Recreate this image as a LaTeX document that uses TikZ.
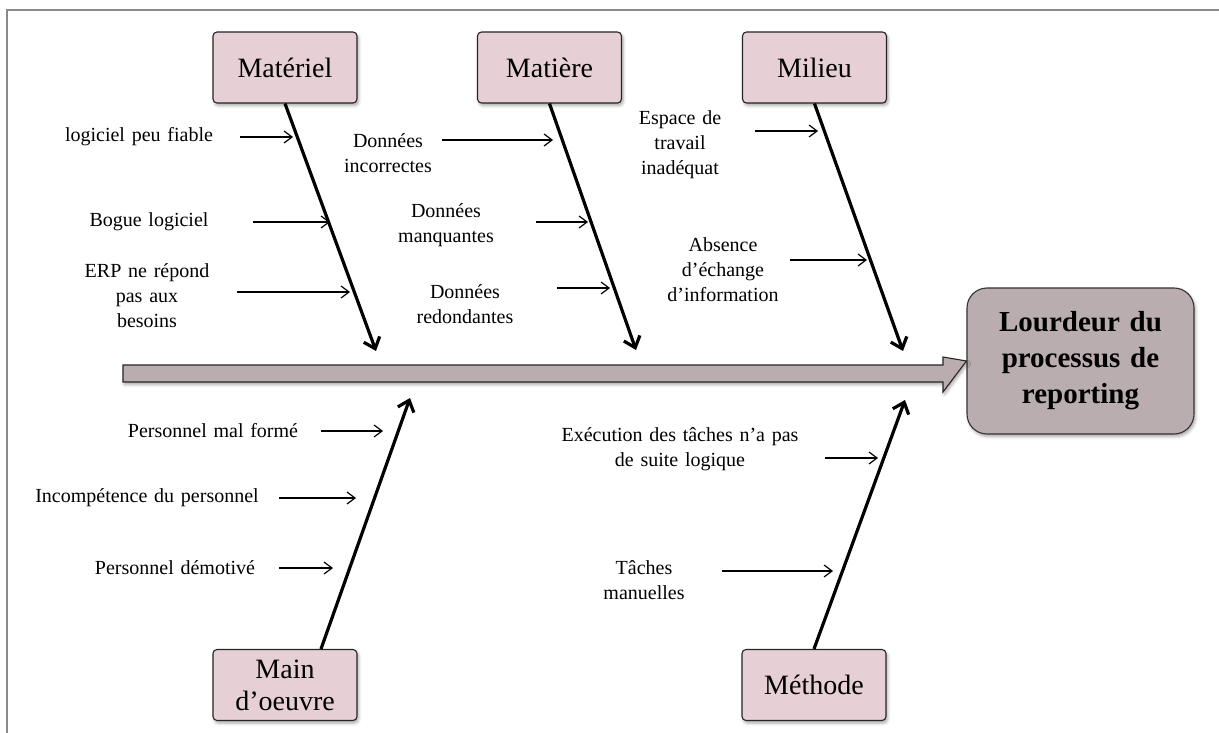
\documentclass[tikz,border=0pt]{standalone}
\usepackage{fontspec}
\setmainfont[WordSpace=1.35]{Liberation Serif}
\usetikzlibrary{arrows.meta,shadows.blur}

\definecolor{causefill}{HTML}{E6CFD5}
\definecolor{effectfill}{HTML}{BAADB0}
\definecolor{framegray}{HTML}{8A8A8A}

\tikzset{
  softshadow/.style={blur shadow={shadow xshift=1.5pt,shadow yshift=-2.5pt,
      shadow opacity=35,shadow blur radius=3pt}},
  cause/.style={draw=black!85, line width=1.1pt, fill=causefill,
      rounded corners=4pt, minimum width=144pt, minimum height=71pt,
      inner sep=0pt, font=\fontsize{28}{32}\selectfont, align=center, softshadow},
  effect/.style={draw=black!80, line width=1.1pt, fill=effectfill,
      rounded corners=20pt, minimum width=227pt, minimum height=146pt,
      inner sep=0pt, font=\fontsize{29}{36}\selectfont\bfseries, align=center, softshadow},
  reason/.style={font=\fontsize{20}{25}\selectfont, align=center, inner sep=0pt},
  bone/.style={line width=3.2pt, -{Straight Barb[length=10pt,width=17pt]}},
  twig/.style={line width=1.2pt, -{Straight Barb[length=8pt,width=12pt]}},
  spine/.style={draw=black!85, line width=1.1pt, fill=effectfill, softshadow},
}

\begin{document}
\begin{tikzpicture}[x=1pt,y=-1pt]
  \useasboundingbox (0,0) rectangle (1219,733);

  % frame (top and left edges)
  \draw[framegray, line width=2pt] (1219,10) -- (7,10) -- (7,733);

  % effect and cause boxes
  \node[effect] (eff) at (1080.5,361) {Lourdeur du\\processus de\\reporting};
  \node[cause] (mat) at (285,67.5) {Matériel};
  \node[cause] (mtr) at (549.5,67.5) {Matière};
  \node[cause] (mil) at (814.5,67.5) {Milieu};
  \node[cause] (mo)  at (285,685) {Main\\d’oeuvre};
  \node[cause] (met) at (814,685) {Méthode};

  % spine
  \path[spine] (123,365) -- (943,365) -- (943,357) -- (eff.west)
     -- (943,392) -- (943,382) -- (123,382) -- cycle;

  % bone tips
  \coordinate (matTip) at (376,351);
  \coordinate (mtrTip) at (636,350);
  \coordinate (milTip) at (903,351);
  \coordinate (moTip)  at (410,398);
  \coordinate (metTip) at (905,400);

  % bones
  \draw[bone] (mat.south) -- (matTip);
  \draw[bone] (mtr.south) -- (mtrTip);
  \draw[bone] (mil.south) -- (milTip);
  \draw[bone] ([xshift=36pt]mo.north) -- (moTip);
  \draw[bone] (met.north) -- (metTip);

  % Matériel causes
  \node[reason] (r1) at (139,137) {logiciel peu fiable};
  \node[reason] (r2) at (149,222) {Bogue logiciel};
  \node[reason] (r3) at (147,296) {ERP ne répond\\pas aux\\besoins};
  \coordinate (a1) at (240,137); \coordinate (b1) at (293,137);
  \coordinate (a2) at (253,222); \coordinate (b2) at (330,222);
  \coordinate (a3) at (237,292); \coordinate (b3) at (350,292);
  \draw[twig] (a1) -- (b1);
  \draw[twig] (a2) -- (b2);
  \draw[twig] (a3) -- (b3);

  % Matière causes
  \node[reason] (r4) at (388,153) {Données\\incorrectes};
  \node[reason] (r5) at (446,225) {Données\\manquantes};
  \node[reason] (r6) at (465,304) {Données\\redondantes};
  \coordinate (a4) at (442,140); \coordinate (b4) at (553,140);
  \coordinate (a5) at (536,222); \coordinate (b5) at (588,222);
  \coordinate (a6) at (557,288); \coordinate (b6) at (610,288);
  \draw[twig] (a4) -- (b4);
  \draw[twig] (a5) -- (b5);
  \draw[twig] (a6) -- (b6);

  % Milieu causes
  \node[reason] (r7) at (680,145) {Espace de\\travail\\inadéquat};
  \node[reason] (r8) at (723,270) {Absence\\d’échange\\d’information};
  \coordinate (a7) at (755,131); \coordinate (b7) at (818,131);
  \coordinate (a8) at (790,260); \coordinate (b8) at (867,260);
  \draw[twig] (a7) -- (b7);
  \draw[twig] (a8) -- (b8);

  % Main d'oeuvre causes
  \node[reason] (r9)  at (213,431) {Personnel mal formé};
  \node[reason] (r10) at (147,498) {Incompétence du personnel};
  \node[reason] (r11) at (175,568) {Personnel démotivé};
  \coordinate (a9)  at (321,431); \coordinate (b9)  at (383,431);
  \coordinate (a10) at (279,498); \coordinate (b10) at (356,498);
  \coordinate (a11) at (279,568); \coordinate (b11) at (333,568);
  \draw[twig] (a9) -- (b9);
  \draw[twig] (a10) -- (b10);
  \draw[twig] (a11) -- (b11);

  % Méthode causes
  \node[reason] (r12) at (680,449) {Exécution des tâches n’a pas\\de suite logique};
  \node[reason] (r13) at (644,580) {Tâches\\manuelles};
  \coordinate (a12) at (825,458); \coordinate (b12) at (878,458);
  \coordinate (a13) at (722,571); \coordinate (b13) at (833,571);
  \draw[twig] (a12) -- (b12);
  \draw[twig] (a13) -- (b13);
\end{tikzpicture}
\end{document}
